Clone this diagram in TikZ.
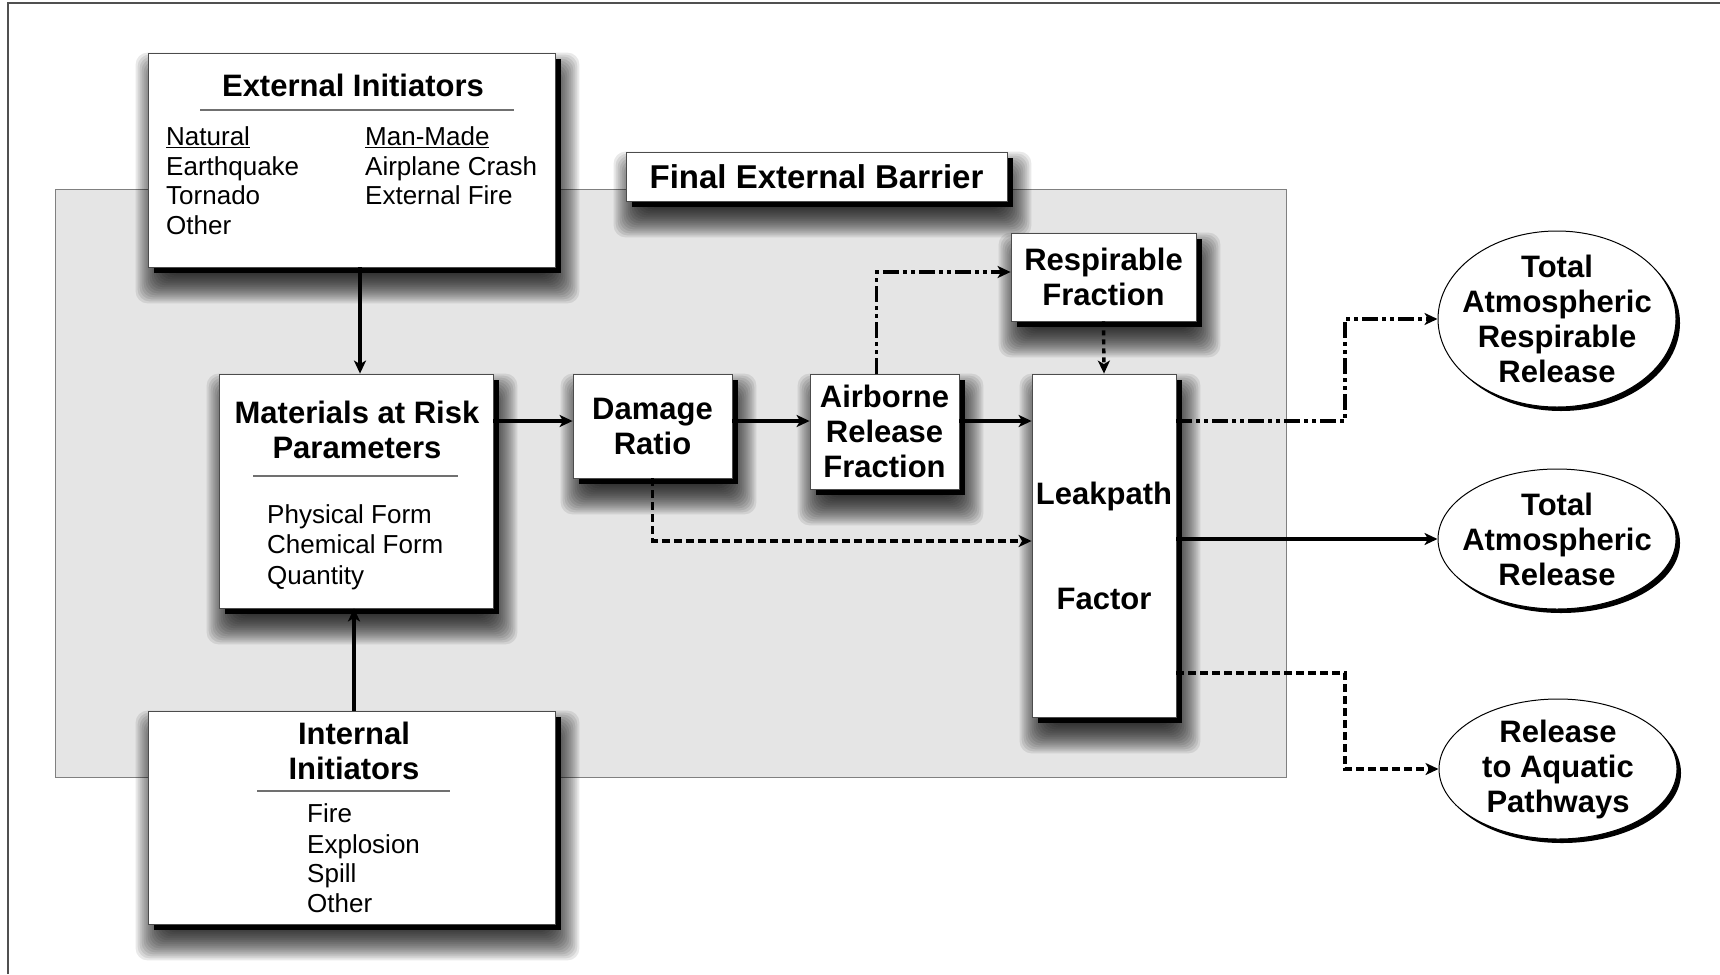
\documentclass[tikz,border=0pt]{standalone}
\usepackage{fontspec}
\setmainfont{Liberation Sans}
\usetikzlibrary{shapes.geometric,shadows,arrows.meta,calc}
\pgfdeclarelayer{back}
\pgfdeclarelayer{blur}
\pgfsetlayers{back,blur,main}
\newcommand\ttlfont{\fontsize{31}{35}\selectfont\bfseries}
\newcommand\bigttlfont{\fontsize{33}{37}\selectfont\bfseries}
\newcommand\bodyfont{\fontsize{26}{30}\selectfont}
\definecolor{barrier}{HTML}{E5E5E5}
\definecolor{barrierline}{HTML}{808080}
\definecolor{framec}{HTML}{505050}
\definecolor{rulec}{HTML}{707070}
\begin{document}
\begin{tikzpicture}[x=1pt,y=-1pt,
  box/.style={draw=black!70, line width=0.8pt, fill=white,
    general shadow={fill=black, shadow xshift=6pt, shadow yshift=-6pt},
    inner sep=0pt, align=center, font=\ttlfont},
  oval/.style={ellipse, draw=black, line width=1pt, fill=white,
    general shadow={fill=black, shadow xshift=4pt, shadow yshift=-4pt},
    inner sep=0pt, minimum width=238pt},
  ovaltext/.style={inner sep=0pt, align=center, font=\ttlfont},
  ttl/.style={anchor=base, inner sep=0pt, font=\ttlfont},
  bodytext/.style={anchor=base west, inner sep=0pt, font=\bodyfont},
  sep/.style={draw=rulec, line width=1.3pt},
  softshadow/.style={fill=black, fill opacity=0.085, rounded corners=12pt},
  conn/.style={line width=3.4pt, -{Stealth[length=13pt,width=12pt,inset=3.5pt]}},
  dashline/.style={dash pattern=on 8pt off 4pt},
  dddline/.style={dash pattern=on 16pt off 4pt on 4pt off 4pt on 4pt off 4pt},
  dotline/.style={dash pattern=on 5pt off 4pt}]
\useasboundingbox (0,0) rectangle (1720,974);
\begin{pgfonlayer}{back}
\draw[framec, line width=1.3pt] (8,974) -- (8,3) -- (1720,3);
\path[fill=barrier, draw=barrierline, line width=1pt] (55,189) rectangle (1286,777);
\end{pgfonlayer}

% External initiators
\node[box, minimum width=407pt, minimum height=214pt] (ext) at (351.5,160) {};
\node[ttl] (extT) at (353,96) {External Initiators};
\draw[sep] (200,110) -- (514,110);
\node[bodytext] (n1) at (166,145.3) {\underline{Natural}};
\node[bodytext] (n2) at (166,175) {Earthquake};
\node[bodytext] (n3) at (166,204.6) {Tornado};
\node[bodytext] (n4) at (166,234.2) {Other};
\node[bodytext] (m1) at (365,145.3) {\underline{Man-Made}};
\node[bodytext] (m2) at (365,175) {Airplane Crash};
\node[bodytext] (m3) at (365,204.6) {External Fire};

% Final external barrier
\node[box, font=\bigttlfont, minimum width=381pt, minimum height=49pt] (feb) at (816.5,176.5) {Final External Barrier};

% Respirable fraction
\node[box, minimum width=185pt, minimum height=88pt] (resp) at (1103.5,277) {Respirable\\Fraction};

% Materials at risk
\node[box, minimum width=274pt, minimum height=234pt] (mat) at (356,491) {};
\node[ttl] (matT1) at (357,423) {Materials at Risk};
\node[ttl] (matT2) at (357,458) {Parameters};
\draw[sep] (253,476) -- (458,476);
\node[bodytext] (p1) at (267,523) {Physical Form};
\node[bodytext] (p2) at (267,553.5) {Chemical Form};
\node[bodytext] (p3) at (267,584) {Quantity};

% Damage ratio, ARF, leakpath
\node[box, minimum width=159pt, minimum height=104pt] (dmg) at (652.5,426) {Damage\\Ratio};
\node[box, minimum width=149pt, minimum height=115pt] (arf) at (884.5,431.5) {Airborne\\Release\\Fraction};
\node[box, minimum width=144pt, minimum height=343pt] (leak) at (1104,545.5) {Leakpath\\[70pt]Factor};

% Internal initiators
\node[box, minimum width=407pt, minimum height=213pt] (intl) at (351.5,817.5) {};
\node[ttl] (intT1) at (354,744) {Internal};
\node[ttl] (intT2) at (354,779) {Initiators};
\draw[sep] (257,791) -- (450,791);
\node[bodytext] (i1) at (307,822.3) {Fire};
\node[bodytext] (i2) at (307,853.3) {Explosion};
\node[bodytext] (i3) at (307,882.3) {Spill};
\node[bodytext] (i4) at (307,912.3) {Other};

% soft blurred shadows under the boxes
\begin{pgfonlayer}{blur}
\foreach \n in {ext,feb,resp,mat,dmg,arf,leak,intl}{
  \foreach \e in {-16,-14,...,18}{
    \fill[softshadow] ($(\n.north west)+(6-\e,18-\e)$) rectangle ($(\n.south east)+(6+\e,18+\e)$);
  }
}
\end{pgfonlayer}

% Ellipses
\node[oval, minimum height=176pt] (e1) at (1557,319) {};
\node[ovaltext] (e1t) at (e1.center) {Total\\Atmospheric\\Respirable\\Release};
\node[oval, minimum height=140pt] (e2) at (1557,539) {};
\node[ovaltext] (e2t) at (e2.center) {Total\\Atmospheric\\Release};
\node[oval, minimum height=140pt] (e3) at (1558,769) {};
\node[ovaltext] (e3t) at (e3.center) {Release\\to Aquatic\\Pathways};

% Connectors
\coordinate (ry) at (0,421);
\coordinate (ry2) at (0,272);
\coordinate (ry3) at (0,541);
\coordinate (ry4) at (0,673);
\coordinate (tx) at (1345,0);
\coordinate (a1) at ($(mat.north)+(4,0)$);
\coordinate (a2) at ($(mat.south)+(-2,0)$);
\coordinate (a3) at ($(arf.north)+(-8,0)$);

\draw[conn] (a1 |- ext.south) -- (a1);
\draw[conn] (a2 |- intl.north) -- (a2);
\draw[conn] (mat.east |- ry) -- (dmg.west |- ry);
\draw[conn] (dmg.east |- ry) -- (arf.west |- ry);
\draw[conn] (arf.east |- ry) -- (leak.west |- ry);
\draw[conn, dddline] (a3) -- (a3 |- ry2) -- (resp.west |- ry2);
\draw[conn, dotline] (resp.south) -- (leak.north);
\draw[conn, dashline] (dmg.south) -- (dmg.south |- ry3) -- (leak.west |- ry3);
\draw[conn, dddline] (leak.east |- ry) -- (tx |- ry) -- (tx |- e1.west) -- (e1.west);
\draw[conn] (leak.east |- e2.west) -- (e2.west);
\draw[conn, dashline] (leak.east |- ry4) -- (tx |- ry4) -- (tx |- e3.west) -- (e3.west);
\end{tikzpicture}
\end{document}
